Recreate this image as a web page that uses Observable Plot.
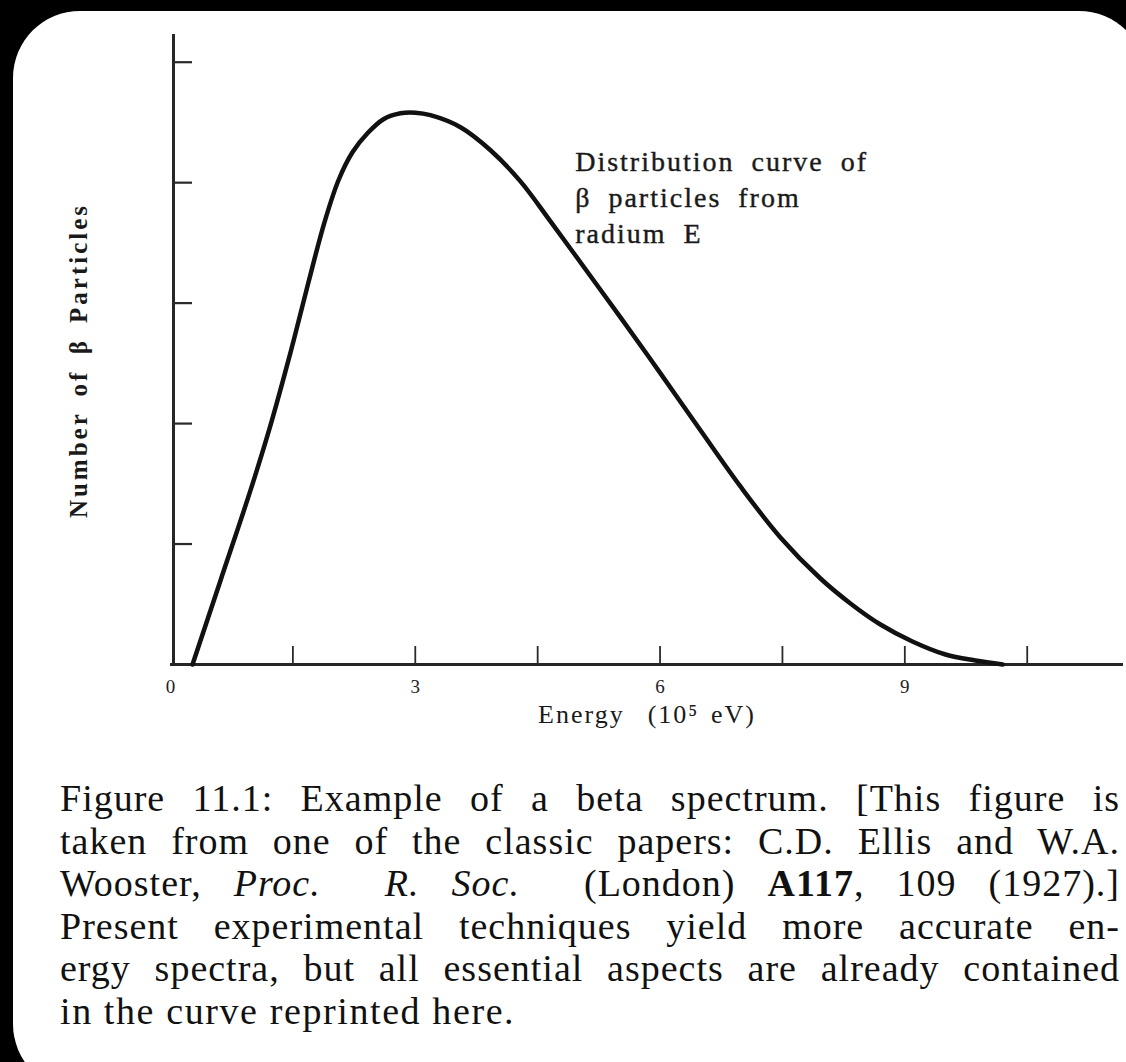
<!DOCTYPE html>
<html>
<head>
<meta charset="utf-8">
<script src="https://cdn.jsdelivr.net/npm/d3@7"></script>
<script src="https://cdn.jsdelivr.net/npm/@observablehq/plot@0.6"></script>
<style>
  html, body { margin: 0; padding: 0; background: #000; width: 1126px; height: 1062px; overflow: hidden; }
  #card { position: absolute; left: 13px; top: 11px; width: 1133px; height: 1080px; background: #fff; border-radius: 67px; }
  #chart { position: absolute; left: 0; top: 0; }
  #caption { position: absolute; left: 60px; top: 777px; width: 1060px; font-family: "Liberation Serif", "DejaVu Serif", serif; font-size: 38px; letter-spacing: 1px; color: #111; line-height: 42.6px; }
  #caption .l { text-align: justify; text-align-last: justify; white-space: nowrap; }
  #caption .last { text-align: left; text-align-last: left; letter-spacing: 1.6px; }
</style>
</head>
<body>
<div id="card"></div>
<div id="chart"></div>
<div id="caption"></div>
<script>
// Energy in units of 10^5 eV, number of particles in tick units
const energy = [0.27, 0.613, 0.98, 1.225, 1.471, 1.691, 1.887, 2.059, 2.23, 2.414, 2.61, 2.819, 3.002, 3.186, 3.554, 3.922, 4.289, 4.657, 5.086, 5.515, 6.005, 6.495, 6.985, 7.475, 7.966, 8.333, 8.701, 9.093, 9.498, 9.865, 10.2];
const counts = [0, 0.698, 1.445, 1.985, 2.591, 3.173, 3.671, 4.02, 4.252, 4.41, 4.527, 4.576, 4.581, 4.56, 4.46, 4.269, 4.011, 3.679, 3.281, 2.882, 2.417, 1.944, 1.478, 1.055, 0.714, 0.507, 0.332, 0.191, 0.083, 0.033, 0];
const xTicks = [1.5, 3, 4.5, 6, 7.5, 9, 10.5];
const xTickLabels = [0, 3, 6, 9];
const yTicks = [1, 2, 3, 4, 5];
const xTitle = "Energy  (10\u2075 eV)";
const yTitle = "Number of \u03B2 Particles";
const annotationLines = ["Distribution curve of", "\u03B2 particles from", "radium E"];
const captionLines = [
  "Figure 11.1: Example of a beta spectrum. [This figure is",
  "taken from one of the classic papers: C.D. Ellis and W.A.",
  "Wooster, <i>Proc.</i> &nbsp;<i>R. Soc.</i> &nbsp;(London) <b>A117</b>, 109 (1927).]",
  "Present experimental techniques yield more accurate en-",
  "ergy spectra, but all essential aspects are already contained",
  "in the curve reprinted here."
];

const xMax = 11.68, yMax = 5.23;
const data = energy.map((e, i) => ({e, n: counts[i]}));
const serif = "Liberation Serif, DejaVu Serif, serif";

const chart = Plot.plot({
  width: 1126, height: 760,
  marginLeft: 170, marginRight: 3, marginTop: 34, marginBottom: 96,
  x: {domain: [0, xMax], axis: null},
  y: {domain: [0, yMax], axis: null},
  style: {background: "transparent", fontFamily: serif, color: "#222"},
  marks: [
    Plot.ruleX([0], {stroke: "#262626", strokeWidth: 3, dx: 3}),
    Plot.ruleY([0], {stroke: "#262626", strokeWidth: 3}),
    Plot.ruleY(yTicks, {y: d => d, x1: 0, x2: xMax * 19 / 953, stroke: "#2a2a2a", strokeWidth: 2.2, dx: 3}),
    Plot.ruleX(xTicks, {x: d => d, y1: 0, y2: yMax * 18 / 630, stroke: "#2a2a2a", strokeWidth: 1.8}),
    Plot.text(xTickLabels, {x: d => d, y: 0, dy: 22, text: d => String(d), fontSize: 19, fill: "#222"}),
    Plot.text([xTitle], {frameAnchor: "bottom", textAnchor: "middle", dy: 58, fontSize: 26, fill: "#1a1a1a"}),
    Plot.text([yTitle], {frameAnchor: "left", textAnchor: "middle", dx: -92, dy: 11, rotate: -90, fontSize: 25, fontWeight: "bold", fill: "#1a1a1a"}),
    Plot.text([annotationLines.join("\n")], {x: 4.96, y: 3.895, textAnchor: "start", lineAnchor: "middle", lineHeight: 1.3, fontSize: 28, fill: "#1a1a1a", stroke: "#1a1a1a", strokeWidth: 0.4}),
    Plot.line(data, {x: "e", y: "n", curve: "catmull-rom", stroke: "#111", strokeWidth: 4.5, strokeLinejoin: "round"})
  ]
});
document.getElementById("chart").appendChild(chart);
chart.querySelectorAll("text").forEach(t => {
  const s = t.textContent;
  if (s.startsWith("Distribution")) { t.style.letterSpacing = "2px"; t.style.wordSpacing = "8px"; }
  if (s.startsWith("Energy")) { t.style.letterSpacing = "2px"; t.style.wordSpacing = "3px"; }
  if (s.startsWith("Number")) { t.style.letterSpacing = "3px"; t.style.wordSpacing = "6px"; }
});
const cap = document.getElementById("caption");
cap.innerHTML = captionLines.map((l, i) =>
  `<div class="l${i === captionLines.length - 1 ? " last" : ""}">${l}</div>`).join("");
cap.querySelectorAll(".l").forEach(div => {
  let ls = parseFloat(getComputedStyle(div).letterSpacing) || 1;
  while (div.scrollWidth > 1060 && ls > -1) { ls -= 0.25; div.style.letterSpacing = ls + "px"; }
});
</script>
</body>
</html>
